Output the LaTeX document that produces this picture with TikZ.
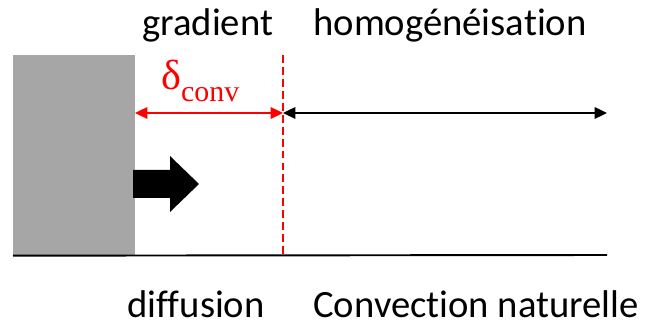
\documentclass[tikz,border=0pt]{standalone}
\usepackage{fontspec}
\setmainfont{Carlito}[Ligatures=NoCommon]
\newfontfamily\deltafont{Liberation Serif}
\usetikzlibrary{arrows.meta}
\definecolor{layerwall}{HTML}{A6A6A6}
\definecolor{layerred}{HTML}{FF0000}
\definecolor{layertext}{HTML}{000000}
\tikzset{
  layer wall/.style={
    rectangle, draw=none, fill=layerwall, inner sep=0pt,
    minimum width=2.44cm, minimum height=4cm, anchor=north west
  },
  layer line/.style={draw=layertext, line width=1.1pt},
  layer front/.style={
    draw=layerred, line width=1.1pt, dash pattern=on 4.5pt off 2.3pt
  },
  layer arrow/.style={
    line width=1.1pt,
    {Triangle[length=7pt,width=6.5pt]}-{Triangle[length=7pt,width=6.5pt]}
  },
  layer label/.style={
    text=layertext, font=\fontsize{22}{26}\selectfont,
    anchor=base west, inner sep=0pt
  }
}
\begin{document}
\begin{tikzpicture}[x=0.02cm,y=-0.02cm]
  \useasboundingbox (0,0) rectangle (653,327);

  \node[layer wall] (wall) at (13,55) {};

  \coordinate (fronttop) at (283,55);
  \coordinate (frontfoot) at (283,255);
  \coordinate (gradstart) at (135,113);
  \coordinate (gradend) at (283,113);
  \coordinate (bulkend) at (607,113);
  \coordinate (floorend) at (607,255);

  % the boundary layer ends at the dashed red front
  \draw[layer front] (fronttop) -- (frontfoot);
  \draw[layer arrow,draw=layerred,fill=layerred] (gradstart) -- (gradend);
  \draw[layer arrow,draw=layertext,fill=layertext] (gradend) -- (bulkend);
  \draw[layer line] (wall.south west) -- (floorend);

  % flux leaving the wall
  \fill[layertext] (133,170) -- (170,170) -- (170,156) -- (199,184)
    -- (170,212) -- (170,198) -- (133,198) -- cycle;

  \node[anchor=base west,inner sep=0pt,text=layerred] (delta) at (161,90)
    {\deltafont\fontsize{24}{26}\selectfont δ\raisebox{-6.8pt}{\fontsize{17}{19}\selectfont conv}};

  \node[layer label] (gradient) at (142,36) {gradient};
  \node[layer label] (homog) at (313,36) {homogénéisation};
  \node[layer label] (diffusion) at (127,318) {diffusion};
  \node[layer label] (convection) at (313,318) {Convection naturelle};
\end{tikzpicture}
\end{document}
